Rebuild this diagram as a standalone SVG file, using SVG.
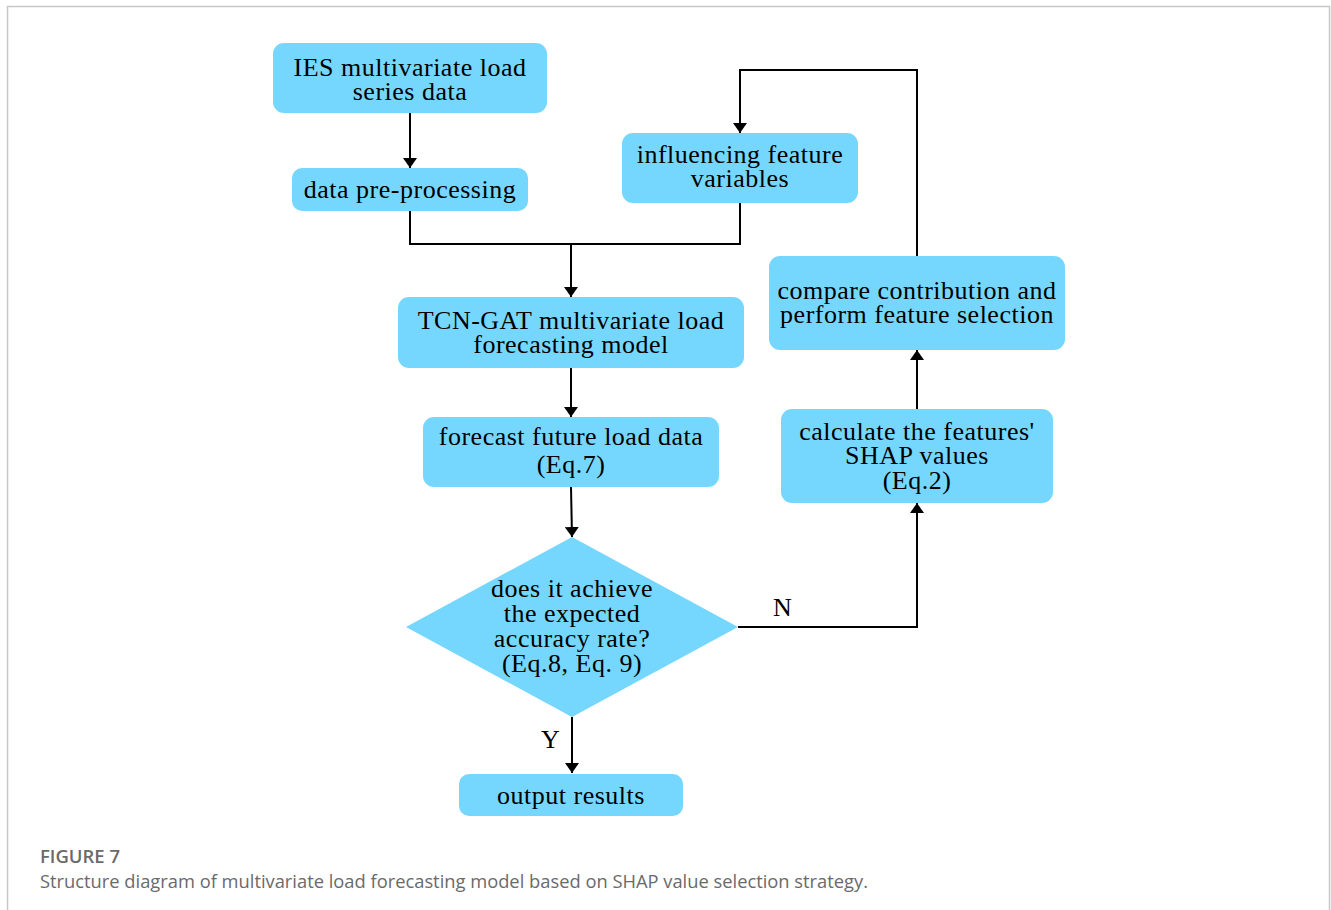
<svg xmlns="http://www.w3.org/2000/svg" width="1331" height="910" viewBox="0 0 1331 910">
  <style>
    .box { fill: #76d7fe; }
    .lbl { font-family: "Liberation Serif", "Times New Roman", serif; font-size: 26px; letter-spacing: 0.5px; fill: #000; text-anchor: middle; }
    .yn { font-family: "Liberation Serif", "Times New Roman", serif; font-size: 26px; fill: #000; }
    .wire { fill: none; stroke: #000; stroke-width: 2; }
    .cap { font-family: "Open Sans", "Noto Sans", sans-serif; fill: #6a6a6a; }
  </style>
  <defs>
    <marker id="arrow" viewBox="0 0 10 14" refX="10" refY="7" markerWidth="10" markerHeight="14" markerUnits="userSpaceOnUse" orient="auto">
      <path d="M0,0 L10,7 L0,14 Z" fill="#000"/>
    </marker>
  </defs>

  <rect x="0" y="0" width="1331" height="910" fill="#fff"/>
  <!-- figure frame -->
  <path d="M7.5,915 V6.5 H1329.5 V915" fill="none" stroke="#c8c8c8" stroke-width="1.5"/>

  <g id="connectors">
    <path class="wire" d="M410,113 V168" marker-end="url(#arrow)"/>
    <path class="wire" d="M410,211 V244 H740 V203"/>
    <path class="wire" d="M571,244 V297" marker-end="url(#arrow)"/>
    <path class="wire" d="M571,368 V417" marker-end="url(#arrow)"/>
    <path class="wire" d="M571,487 L572,537" marker-end="url(#arrow)"/>
    <path class="wire" d="M572,717 V773" marker-end="url(#arrow)"/>
    <path class="wire" d="M738,627 H917 V503" marker-end="url(#arrow)"/>
    <path class="wire" d="M917,409 V350" marker-end="url(#arrow)"/>
    <path class="wire" d="M917,256 V70 H740 V133" marker-end="url(#arrow)"/>
    <text class="yn" x="773" y="616">N</text>
    <text class="yn" x="541" y="748">Y</text>
  </g>

  <g id="load-data">
    <rect class="box" x="273" y="43" width="274" height="70" rx="11"/>
    <text class="lbl" x="410" y="76">IES multivariate load</text>
    <text class="lbl" x="410" y="100">series data</text>
  </g>

  <g id="preprocessing">
    <rect class="box" x="292" y="168" width="236" height="43" rx="10"/>
    <text class="lbl" x="410" y="198">data pre-processing</text>
  </g>

  <g id="feature-variables">
    <rect class="box" x="622" y="133" width="236" height="70" rx="11"/>
    <text class="lbl" x="740" y="163">influencing feature</text>
    <text class="lbl" x="740" y="187">variables</text>
  </g>

  <g id="tcn-gat-model">
    <rect class="box" x="398" y="297" width="346" height="71" rx="11"/>
    <text class="lbl" x="571" y="329">TCN-GAT multivariate load</text>
    <text class="lbl" x="571" y="353">forecasting model</text>
  </g>

  <g id="forecast">
    <rect class="box" x="423" y="417" width="296" height="70" rx="11"/>
    <text class="lbl" x="571" y="445">forecast future load data</text>
    <text class="lbl" x="571" y="473">(Eq.7)</text>
  </g>

  <g id="accuracy-check">
    <polygon class="box" points="572,537 738,627 572,717 406,627"/>
    <text class="lbl" x="572" y="597">does it achieve</text>
    <text class="lbl" x="572" y="622">the expected</text>
    <text class="lbl" x="572" y="647">accuracy rate?</text>
    <text class="lbl" x="572" y="672">(Eq.8, Eq. 9)</text>
  </g>

  <g id="output">
    <rect class="box" x="459" y="774" width="224" height="42" rx="10"/>
    <text class="lbl" x="571" y="804">output results</text>
  </g>

  <g id="shap-values">
    <rect class="box" x="781" y="409" width="272" height="94" rx="11"/>
    <text class="lbl" x="917" y="440">calculate the features'</text>
    <text class="lbl" x="917" y="464">SHAP values</text>
    <text class="lbl" x="917" y="489">(Eq.2)</text>
  </g>

  <g id="feature-selection">
    <rect class="box" x="769" y="256" width="296" height="94" rx="11"/>
    <text class="lbl" x="917" y="299">compare contribution and</text>
    <text class="lbl" x="917" y="323">perform feature selection</text>
  </g>

  <g id="caption">
    <text class="cap" x="40" y="863" font-size="18" font-weight="600" textLength="80" lengthAdjust="spacingAndGlyphs">FIGURE 7</text>
    <text class="cap" x="40" y="888" font-size="18" textLength="828" lengthAdjust="spacingAndGlyphs">Structure diagram of multivariate load forecasting model based on SHAP value selection strategy.</text>
  </g>
</svg>
